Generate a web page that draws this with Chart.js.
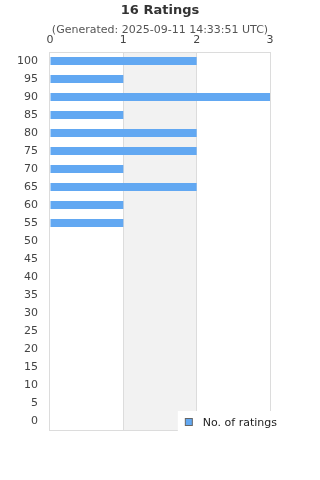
<!DOCTYPE html>
<html><head><meta charset="utf-8">
<script src="https://cdn.jsdelivr.net/npm/chart.js@4"></script>
<style>html,body{margin:0;padding:0;background:#fff}#wrap{width:320px;height:480px;position:relative}</style>
</head><body><div id="wrap"><canvas id="c"></canvas></div>
<script>
const titleText = '16 Ratings';
const subtitleText = '(Generated: 2025-09-11 14:33:51 UTC)';
const categories = ['100','95','90','85','80','75','70','65','60','55','50','45','40','35','30','25','20','15','10','5','0'];
const ratingCounts = [2,1,3,1,2,2,1,2,1,1,0,0,0,0,0,0,0,0,0,0,0];
const xTicks = [0,1,2,3];
const seriesLabel = 'No. of ratings';
const barColor = '#62a8f2';
const FONT = '"DejaVu Sans", sans-serif';

const bandsPlugin = {
  id: 'bands',
  afterLayout(chart) {
    // center title blocks on the full canvas width
    chart.boxes.forEach(b => {
      if (!b.axis && b.options && typeof b.options.text === 'string') {
        b.left = 0; b.right = chart.width; b.width = chart.width;
      }
    });
  },
  beforeDraw(chart) {
    const {ctx, chartArea: ca, scales: {x}} = chart;
    ctx.save();
    ctx.fillStyle = '#f2f2f2';
    for (let i = 1; i < xTicks.length - 1; i += 2) {
      const a = x.getPixelForValue(xTicks[i]);
      const b = x.getPixelForValue(xTicks[i + 1]);
      ctx.fillRect(a, ca.top, b - a, ca.bottom - ca.top);
    }
    ctx.restore();
  },
  beforeDatasetsDraw(chart) {
    const {ctx, chartArea: ca} = chart;
    ctx.save();
    ctx.strokeStyle = '#dcdcdc';
    ctx.lineWidth = 1;
    ctx.beginPath();
    ctx.moveTo(ca.left, Math.round(ca.bottom) + 0.5);
    ctx.lineTo(ca.right, Math.round(ca.bottom) + 0.5);
    ctx.stroke();
    ctx.restore();
  }
};

const legendPlugin = {
  id: 'floatLegend',
  afterDraw(chart) {
    const {ctx, chartArea: ca} = chart;
    const ds = chart.data.datasets[0];
    ctx.save();
    ctx.font = '11px ' + FONT;
    const tw = ctx.measureText(ds.label).width;
    const w = 25 + tw + 3;
    const h = 20;
    const left = ca.right + 10 - w;
    const top = ca.bottom - h + 1;
    ctx.fillStyle = '#ffffff';
    ctx.fillRect(left, top, w, h);
    ctx.fillStyle = ds.backgroundColor;
    ctx.fillRect(left + 7.5, top + 7.5, 7, 7);
    ctx.strokeStyle = '#666';
    ctx.lineWidth = 1;
    ctx.strokeRect(left + 7.5, top + 7.5, 7, 7);
    ctx.fillStyle = '#222';
    ctx.textBaseline = 'middle';
    ctx.textAlign = 'left';
    ctx.fillText(ds.label, left + 25, top + 12);
    ctx.restore();
  }
};

new Chart(document.getElementById('c'), {
  type: 'bar',
  data: {
    labels: categories,
    datasets: [{
      label: seriesLabel,
      data: ratingCounts,
      backgroundColor: barColor,
      borderWidth: 0,
      barPercentage: 0.45,
      categoryPercentage: 1.0
    }]
  },
  options: {
    indexAxis: 'y',
    responsive: true,
    maintainAspectRatio: false,
    animation: false,
    layout: {padding: {left: 5, right: 50, top: 0, bottom: 50}},
    plugins: {
      legend: {display: false},
      tooltip: {enabled: false},
      title: {
        display: true, text: titleText, color: '#333',
        font: {family: FONT, size: 13, weight: 'bold'},
        padding: {top: 3, bottom: 2}
      },
      subtitle: {
        display: true, text: subtitleText, color: '#555',
        font: {family: FONT, size: 11},
        padding: {top: 3, bottom: -8}
      }
    },
    scales: {
      x: {
        position: 'top',
        min: 0, max: 3,
        afterBuildTicks(scale) { scale.ticks = xTicks.map(v => ({value: v})); },
        ticks: {color: '#444', font: {family: FONT, size: 11}, padding: 5, maxRotation: 0},
        grid: {color: '#dcdcdc', drawTicks: false},
        border: {display: true, color: '#dcdcdc'}
      },
      y: {
        ticks: {color: '#444', font: {family: FONT, size: 11}, padding: 12, autoSkip: false},
        grid: {display: false, drawTicks: false},
        border: {display: true, color: '#dcdcdc'}
      }
    }
  },
  plugins: [bandsPlugin, legendPlugin]
});
</script>
</body></html>
